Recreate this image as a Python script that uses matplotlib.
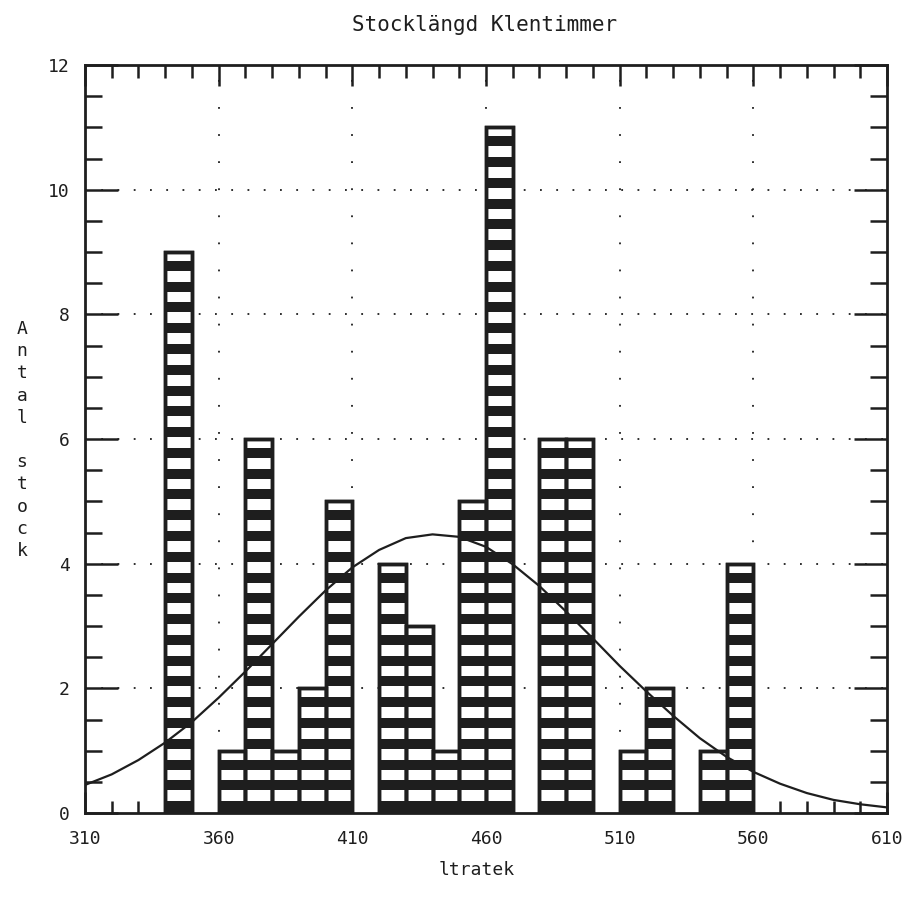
# Stocklängd Klentimmer - histogram with fitted normal curve (old plotter style)
import numpy as np
import matplotlib
matplotlib.use("Agg")
import matplotlib.pyplot as plt
from matplotlib.ticker import MultipleLocator

# ===== Data =====
bin_left = [340, 360, 370, 380, 390, 400, 420, 430, 440, 450, 460, 480, 490, 510, 520, 540, 550]
counts   = [9,   1,   6,   1,   2,   5,   4,   3,   1,   5,   11,  6,   6,   1,   2,   1,   4]
bin_width = 10

# fitted curve, values every 10 units
curve_x = [310, 320, 330, 340, 350, 360, 370, 380, 390, 400, 410, 420, 430, 440, 450, 460,
           470, 480, 490, 500, 510, 520, 530, 540, 550, 560, 570, 580, 590, 600, 610]
curve_y = [0.45, 0.62, 0.85, 1.13, 1.46, 1.85, 2.27, 2.71, 3.15, 3.57, 3.94, 4.22, 4.41, 4.47, 4.43, 4.27,
           3.99, 3.64, 3.23, 2.80, 2.36, 1.95, 1.56, 1.20, 0.90, 0.66, 0.47, 0.32, 0.21, 0.14, 0.09]

x_ticks = [310, 360, 410, 460, 510, 560, 610]
y_ticks = [0, 2, 4, 6, 8, 10, 12]

title = "Stocklängd Klentimmer"
xlabel = "ltratek"
ylabel = "Antal stock"

# ===== Style =====
ink = "#1e1e1e"
plt.rcParams['font.family'] = ['DejaVu Sans Mono', 'DejaVu Sans']

fig = plt.figure(figsize=(9.11, 9.06), dpi=100)
ax = fig.add_axes([85/911, 1 - 813/906, (887 - 85)/911, (813 - 65)/906])

# bars: white boxes with black outline
ax.bar(bin_left, counts, width=bin_width, align='edge', facecolor='white',
       edgecolor=ink, linewidth=2.5, zorder=2)

# horizontal black stripes inside every bar, three per unit
band = 0.16
for left, h in zip(bin_left, counts):
    k = 0
    while k / 3.0 < h - 0.05:
        b0 = k / 3.0 + 0.03
        b1 = min(b0 + band, h)
        if k == 0:
            b0 = 0
        ax.bar(left, b1 - b0, bottom=b0, width=bin_width, align='edge',
               color=ink, linewidth=0, zorder=3)
        k += 1
# redraw outlines above stripes
ax.bar(bin_left, counts, width=bin_width, align='edge', fill=False,
       edgecolor=ink, linewidth=2.5, zorder=4)

# fitted curve
ax.plot(curve_x, curve_y, color=ink, linewidth=1.6, zorder=5)

# ===== Axes =====
ax.set_xlim(310, 610)
ax.set_ylim(0, 12)
ax.set_xticks(x_ticks)
ax.set_yticks(y_ticks)
ax.xaxis.set_minor_locator(MultipleLocator(10))
ax.yaxis.set_minor_locator(MultipleLocator(0.5))

ax.tick_params(axis='both', which='both', direction='in', top=True, right=True,
               color=ink, width=1.8, labelcolor=ink, labelsize=13)
ax.tick_params(axis='x', which='major', length=15, pad=12)
ax.tick_params(axis='x', which='minor', length=9)
ax.tick_params(axis='y', which='major', length=24, pad=11)
ax.tick_params(axis='y', which='minor', length=12)

for s in ax.spines.values():
    s.set_linewidth(2.0)
    s.set_color(ink)

# dotted grid at the major ticks
for xv in x_ticks[1:-1]:
    ax.axvline(xv, color=ink, linewidth=1.3, linestyle=(0, (1, 14)), zorder=1)
for yv in y_ticks[1:-1]:
    ax.axhline(yv, color=ink, linewidth=1.3, linestyle=(0, (1, 8)), zorder=1)

# ===== Texts =====
fig.text(485/911, 1 - 25/906, title, ha='center', va='center', fontsize=15, color=ink)
fig.text(477/911, 1 - 870/906, xlabel, ha='center', va='center', fontsize=13, color=ink)
fig.text(22/911, 1 - 440/906, "\n".join(list(ylabel)), ha='center', va='center',
         fontsize=13, color=ink, linespacing=1.3)

fig.savefig("out.png", dpi=100)
